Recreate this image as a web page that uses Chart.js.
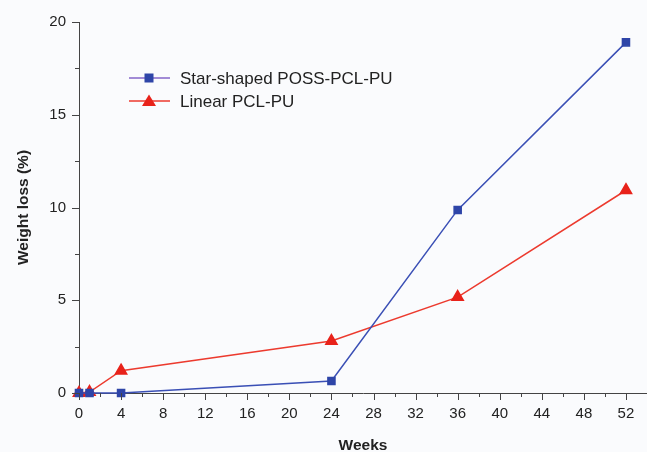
<!DOCTYPE html>
<html><head><meta charset="utf-8">
<script src="https://cdn.jsdelivr.net/npm/chart.js@4/dist/chart.umd.min.js"></script>
<style>html,body{margin:0;padding:0;background:#fafbfd;}#wrap{width:647px;height:452px;position:relative;}</style>
</head><body><div id="wrap"><canvas id="c" width="647" height="452"></canvas></div>
<script>
const weeksStar = [0, 1, 4, 24, 36, 52];
const lossStar = [0, 0, 0, 0.65, 9.87, 18.9];
const weeksLinear = [0, 1, 4, 24, 36, 52];
const lossLinear = [0, 0.05, 1.2, 2.8, 5.17, 10.93];
const seriesNames = ['Star-shaped POSS-PCL-PU', 'Linear PCL-PU'];
const xTickLabels = [0,4,8,12,16,20,24,28,32,36,40,44,48,52];
const yTickLabels = [0,5,10,15,20];

const FONT = 'Liberation Sans, Arial, sans-serif';

const minorTicks = {
  id: 'minorTicks',
  afterDraw(chart) {
    const ctx = chart.ctx, x = chart.scales.x, y = chart.scales.y, a = chart.chartArea;
    ctx.save();
    ctx.strokeStyle = '#444'; ctx.lineWidth = 1;
    ctx.beginPath();
    for (let v = 0; v <= 54; v += 2) {
      const px = Math.round(x.getPixelForValue(v)) + 0.5;
      const len = (v % 4 === 0) ? 7 : 4;
      ctx.moveTo(px, a.bottom); ctx.lineTo(px, a.bottom + len);
    }
    for (let v = 0; v <= 20; v += 2.5) {
      const py = Math.round(y.getPixelForValue(v)) + 0.5;
      const len = (v % 5 === 0) ? 7 : 4;
      ctx.moveTo(a.left, py); ctx.lineTo(a.left - len, py);
    }
    ctx.stroke();
    ctx.restore();
  }
};

const legendInside = {
  id: 'legendInside',
  afterDraw(chart) {
    const ctx = chart.ctx;
    const x0 = 129, rows = [78, 101];
    chart.data.datasets.forEach((ds, i) => {
      const yy = rows[i];
      ctx.save();
      ctx.strokeStyle = ds.legendLine; ctx.lineWidth = 1.5;
      ctx.beginPath(); ctx.moveTo(x0, yy); ctx.lineTo(x0 + 41, yy); ctx.stroke();
      ctx.fillStyle = ds.pointBackgroundColor;
      const cx = x0 + 20;
      if (ds.pointStyle === 'rect') {
        ctx.fillRect(cx - 4.5, yy - 4.5, 9, 9);
      } else {
        ctx.beginPath(); ctx.moveTo(cx, yy - 6.5); ctx.lineTo(cx + 7, yy + 5); ctx.lineTo(cx - 7, yy + 5); ctx.closePath(); ctx.fill();
      }
      ctx.fillStyle = '#222'; ctx.font = '17px ' + FONT; ctx.textBaseline = 'middle';
      ctx.fillText(ds.label, x0 + 51, yy + 1);
      ctx.restore();
    });
  }
};

new Chart(document.getElementById('c'), {
  type: 'line',
  data: {
    datasets: [
      { label: seriesNames[0], data: weeksStar.map((w, i) => ({x: w, y: lossStar[i]})),
        borderColor: '#3a4fb5', borderWidth: 1.5, pointStyle: 'rect', pointRadius: 5,
        pointBackgroundColor: '#2e45a8', pointBorderColor: '#2e45a8', legendLine: '#8466c8', tension: 0, clip: false },
      { label: seriesNames[1], data: weeksLinear.map((w, i) => ({x: w, y: lossLinear[i]})),
        borderColor: '#ec3a2e', borderWidth: 1.5, pointStyle: 'triangle', pointRadius: 6.5,
        pointBackgroundColor: '#e8221a', pointBorderColor: '#e8221a', legendLine: '#ec3a2e', tension: 0, clip: false }
    ]
  },
  options: {
    responsive: false, animation: false,
    layout: { autoPadding: false, padding: { top: 22, right: 0, left: 0, bottom: 0 } },
    plugins: { legend: { display: false }, tooltip: { enabled: false } },
    scales: {
      x: {
        type: 'linear', min: 0, max: 54,
        afterBuildTicks: (s) => { s.ticks = xTickLabels.map(v => ({value: v})); },
        ticks: { color: '#222', font: { family: FONT, size: 15 }, padding: 5, autoSkip: false, maxRotation: 0,
                 callback: (v) => String(v) },
        grid: { display: false, drawTicks: true, tickLength: 7, color: 'transparent' },
        border: { display: true, color: '#444', width: 1 },
        title: { display: true, text: 'Weeks', font: { family: FONT, size: 15.5, weight: 'bold' }, color: '#222', padding: { top: 12, bottom: -3 } },
        afterFit: (s) => { s.height = 59; s.paddingRight = 0; s.paddingLeft = 0; }
      },
      y: {
        min: 0, max: 20,
        afterBuildTicks: (s) => { s.ticks = yTickLabels.map(v => ({value: v})); },
        ticks: { color: '#222', font: { family: FONT, size: 15 }, padding: 6 },
        grid: { display: false, drawTicks: true, tickLength: 7, color: 'transparent' },
        border: { display: true, color: '#444', width: 1 },
        title: { display: true, text: 'Weight loss (%)', font: { family: FONT, size: 15.5, weight: 'bold' }, color: '#222', padding: { top: 14, bottom: 8 } },
        afterFit: (s) => { s.width = 79; s.paddingTop = 0; s.paddingBottom = 0; }
      }
    }
  },
  plugins: [minorTicks, legendInside]
});
</script></body></html>
